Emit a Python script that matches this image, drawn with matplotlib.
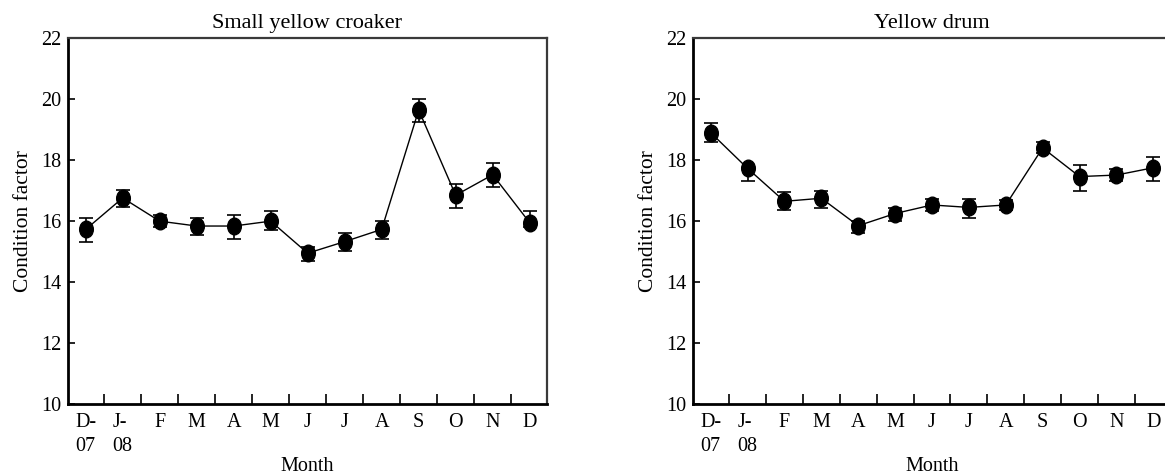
import numpy as np
import matplotlib
matplotlib.use("Agg")
import matplotlib.pyplot as plt
from matplotlib.path import Path
from matplotlib.transforms import Affine2D

months = ["D-\n07", "J-\n08", "F", "M", "A", "M", "J", "J", "A", "S", "O", "N", "D"]

# Small yellow croaker
syc_mean = [15.73, 16.76, 16.00, 15.84, 15.84, 16.00, 14.95, 15.33, 15.73, 19.64, 16.85, 17.52, 15.95]
syc_err_low = [0.40, 0.30, 0.20, 0.30, 0.42, 0.30, 0.25, 0.30, 0.31, 0.40, 0.42, 0.41, 0.15]
syc_err_up = [0.38, 0.25, 0.21, 0.27, 0.37, 0.33, 0.20, 0.27, 0.26, 0.36, 0.37, 0.38, 0.38]

# Yellow drum
yd_mean = [18.90, 17.73, 16.65, 16.75, 15.85, 16.25, 16.53, 16.45, 16.53, 18.40, 17.46, 17.51, 17.75]
yd_err_low = [0.30, 0.43, 0.30, 0.31, 0.24, 0.24, 0.19, 0.34, 0.18, 0.18, 0.46, 0.18, 0.42]
yd_err_up = [0.30, 0.00, 0.29, 0.24, 0.15, 0.19, 0.19, 0.27, 0.17, 0.18, 0.38, 0.20, 0.36]

titles = ["Small yellow croaker", "Yellow drum"]
y_ticks = [10, 12, 14, 16, 18, 20, 22]

plt.rcParams['font.family'] = ['Liberation Serif', 'DejaVu Serif']
FS = 14.5

W, H = 1165, 476
fig = plt.figure(figsize=(W / 100, H / 100), dpi=100)

ell = Path.unit_circle().transformed(Affine2D().scale(0.82, 1.0))

panels = [
    (syc_mean, syc_err_low, syc_err_up, 68.3, 478.4),
    (yd_mean, yd_err_low, yd_err_up, 693.3, 477.0),
]
bottom_px, top_px = 404.3, 38.0

for i, (mean, elo, eup, left, width) in enumerate(panels):
    ax = fig.add_axes([left / W, (H - bottom_px) / H, width / W, (bottom_px - top_px) / H])
    x = np.arange(len(months))
    ax.errorbar(x, mean, yerr=[elo, eup], color='black', lw=1.0, elinewidth=1.2,
                capsize=4.8, capthick=1.2, marker=ell, markersize=12,
                markerfacecolor='black', markeredgecolor='black', zorder=3)
    ax.set_xlim(-0.47, 12.46)
    ax.set_ylim(10, 22)
    ax.set_yticks(y_ticks)
    ax.set_yticklabels([str(t) for t in y_ticks], fontsize=FS)
    ax.set_xticks(x)
    ax.set_xticklabels(months, fontsize=FS, linespacing=1.35, va='top')
    ax.set_xticks(x[:-1] + 0.5, minor=True)
    ax.tick_params(axis='x', which='major', length=0, pad=6)
    ax.tick_params(axis='x', which='minor', direction='in', length=7, width=1.2, color='black')
    ax.tick_params(axis='y', direction='in', length=5, width=1.2, pad=5)
    for lab in ax.get_xticklabels():
        lab.set_multialignment('left')
    for s in ['left', 'bottom']:
        ax.spines[s].set_linewidth(2.0)
        ax.spines[s].set_color('black')
    for s in ['top', 'right']:
        ax.spines[s].set_linewidth(1.6)
        ax.spines[s].set_color('#3a3a3a')
    ax.set_title(titles[i], fontsize=16, pad=7)
    ax.set_xlabel("Month", fontsize=FS, labelpad=1)
    ax.set_ylabel("Condition factor", fontsize=15.5, labelpad=6)

fig.savefig("out.png", dpi=100)
